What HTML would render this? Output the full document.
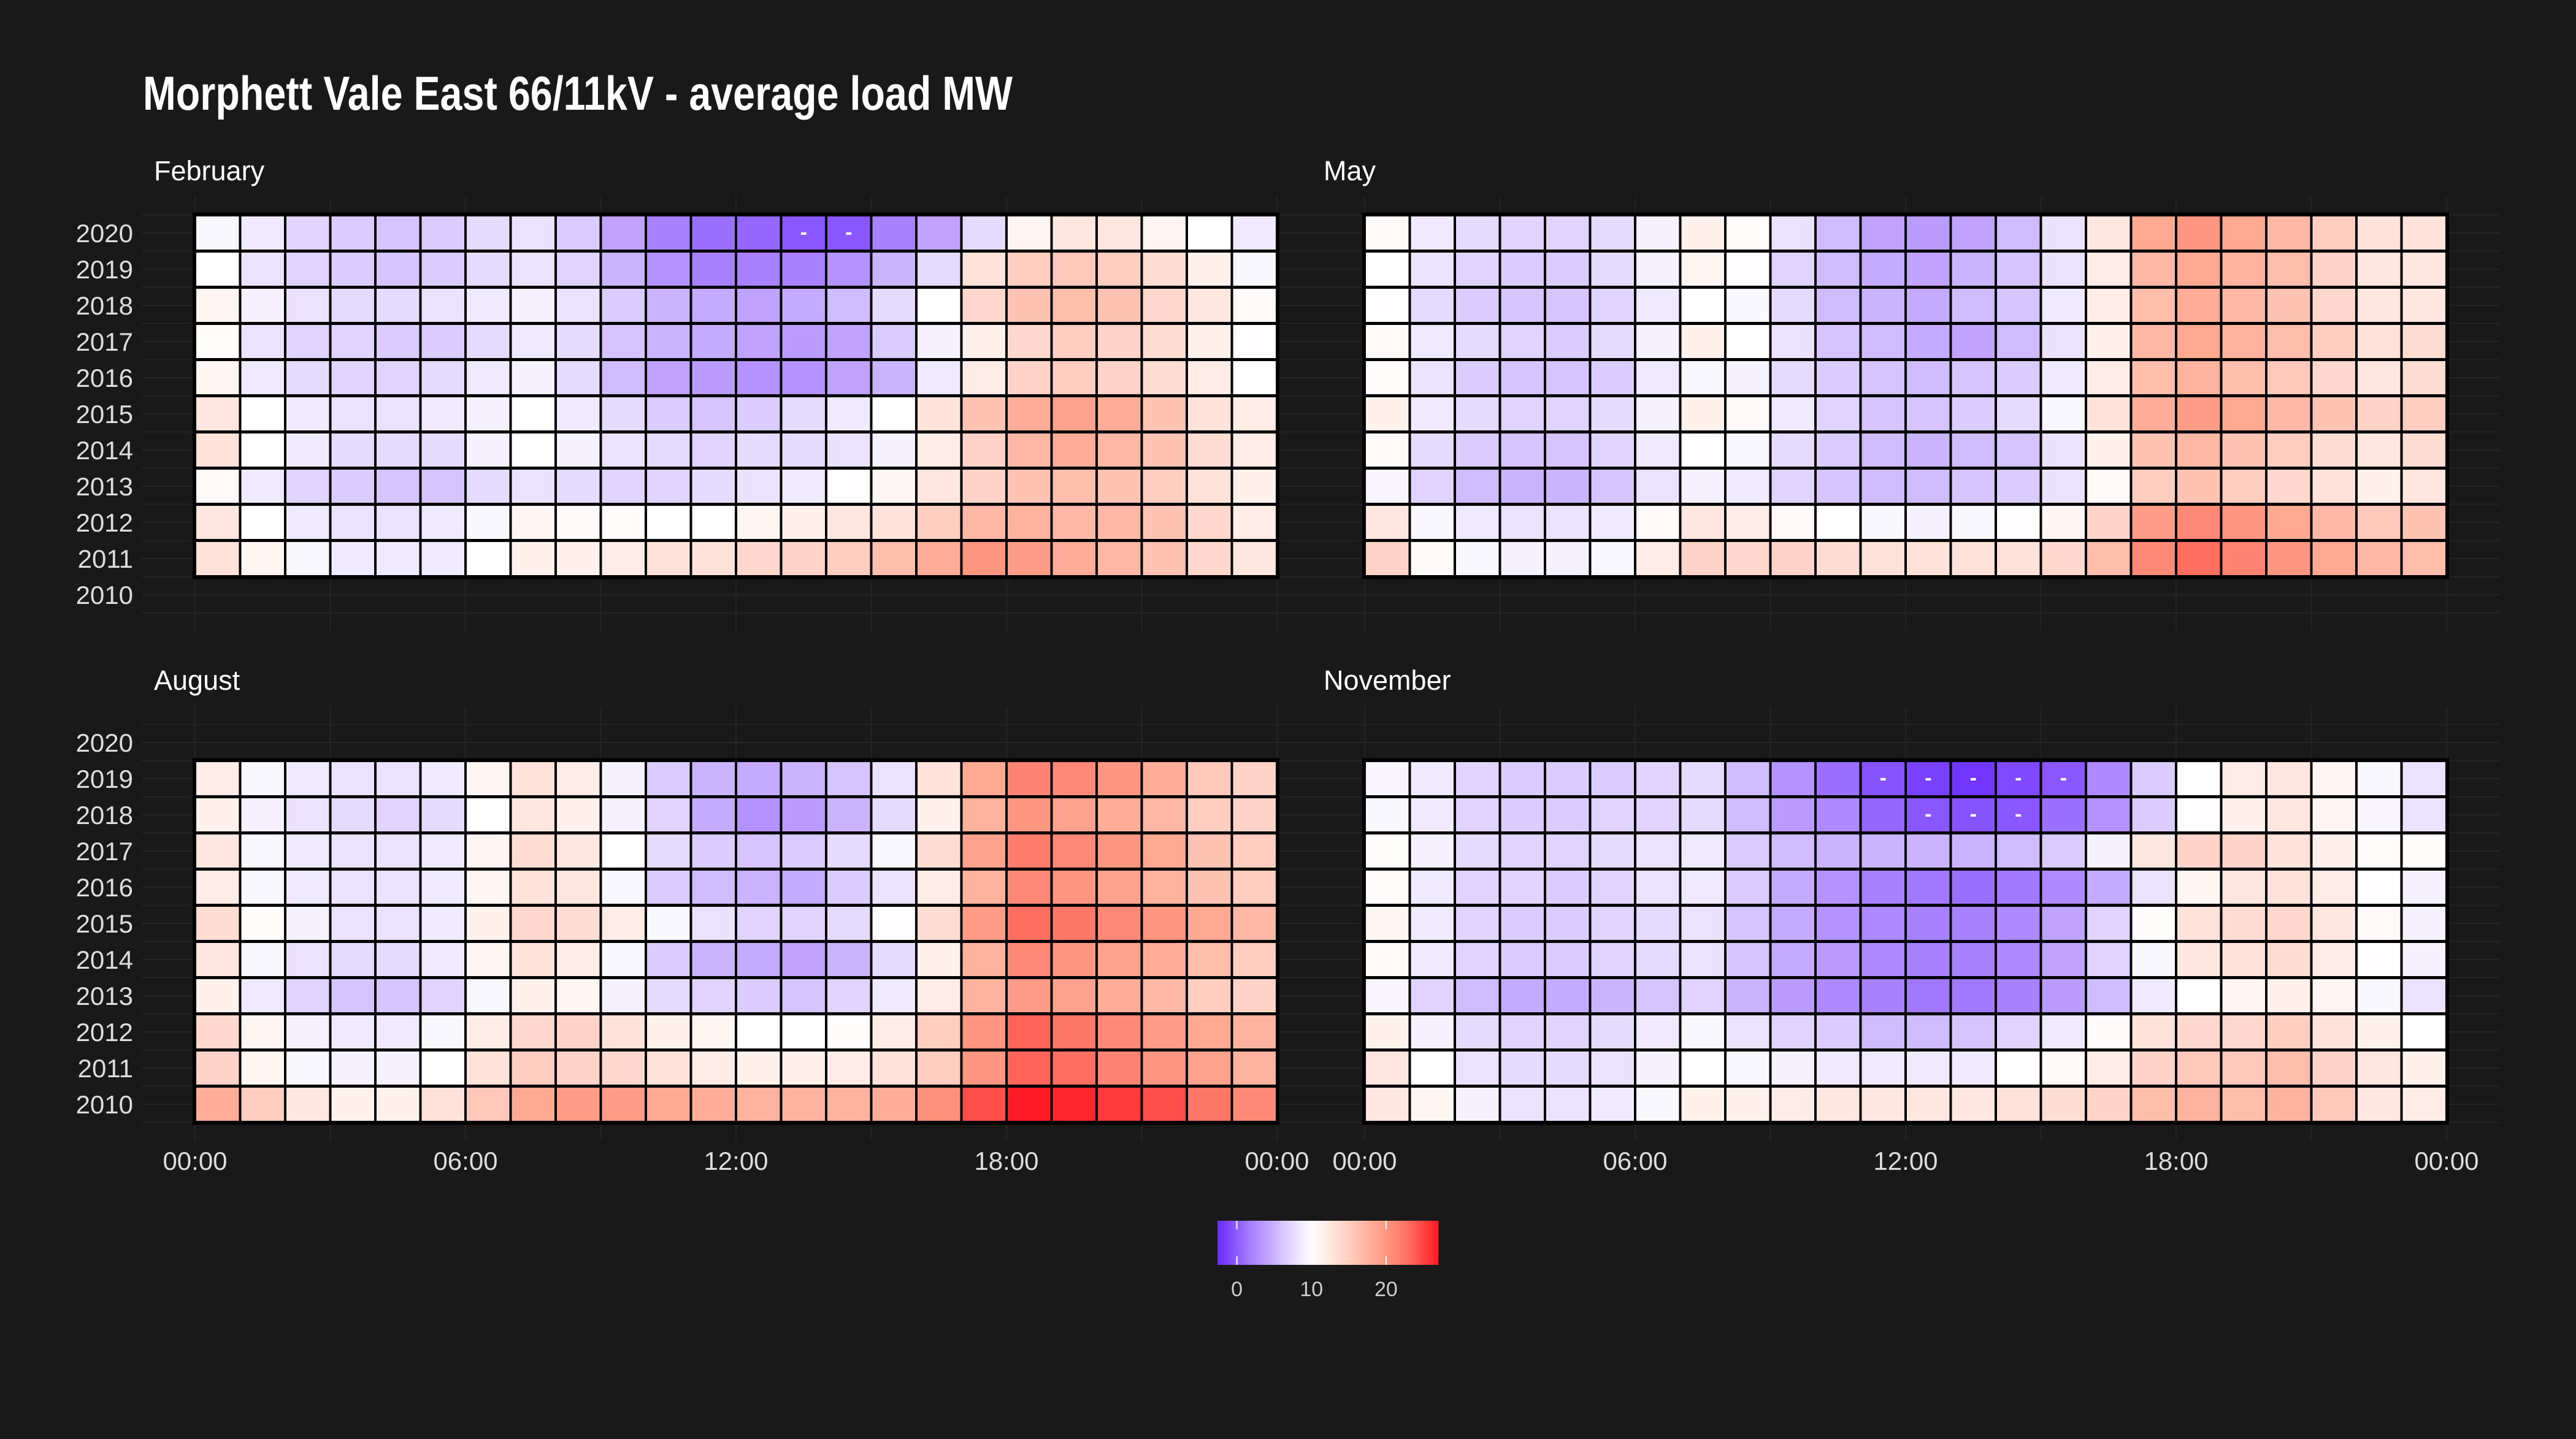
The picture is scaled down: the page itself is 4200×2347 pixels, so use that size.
<!DOCTYPE html>
<html><head><meta charset="utf-8"><style>
html,body{margin:0;padding:0;background:#191919;}
svg{display:block;}
text{font-family:"Liberation Sans Narrow","Liberation Sans",sans-serif;}
</style></head><body>
<svg id="chart" width="4200" height="2347" viewBox="0 0 4200 2347" xmlns="http://www.w3.org/2000/svg">
<rect x="0" y="0" width="4200" height="2347" fill="#191919"/>
<text x="233" y="179" fill="#ffffff" font-size="78" font-weight="bold" textLength="1418" lengthAdjust="spacingAndGlyphs">Morphett Vale East 66/11kV - average load MW</text>
<defs><linearGradient id="lg" x1="0" x2="1" y1="0" y2="0"></linearGradient></defs>
</svg>
<script>
const hours = [0,1,2,3,4,5,6,7,8,9,10,11,12,13,14,15,16,17,18,19,20,21,22,23];
const xTickLabels = ["00:00","06:00","12:00","18:00","00:00"];
const xTickHours = [0,6,12,18,24];
const legendTicks = [0,10,20];
const yearTicks = [2010,2011,2012,2013,2014,2015,2016,2017,2018,2019,2020];
const febYears = [2020,2019,2018,2017,2016,2015,2014,2013,2012,2011];
const febValues = [
[9.5,8.5,7,6.5,6,6.5,7.5,8,6.5,4,2,1,0.5,-0.3,-0.3,2,4,7.5,11,12.5,12.5,11,10,8.5],
[10,8,7,6.5,6,6.5,7.5,8,7,5,3,2,2,2,3,5,7.5,13,15,15.5,15,13.5,11.5,9.5],
[11,9,8,7.5,7.5,8,8.5,9,8,6.5,5,4.5,4,4.5,5.5,7.5,10,14,16,16.5,16,14,12.5,10.5],
[10.3,8,7,7,6.5,6.5,7.5,8.5,7.5,6,5,4.5,4,3.5,4,6.5,9,11.5,14,15,14.5,13.5,11.5,9.8],
[11,8.5,7.5,7,7,7.5,8.5,9,7.5,5.5,4,3.5,3,3,4,5,8.5,12,14.5,15,14.5,13.5,12,10],
[12.5,10,8.5,8,8,8.5,9,10,8.5,7.5,6.5,6,6.5,7.5,8.5,10,13,16,18,19,18,16,13,12],
[13,10,8.5,7.5,7.5,7.5,9,10,9,8,7.5,7,7.5,7.5,8,9,12,14.5,17,18,17,16,13.5,12],
[10.5,8.5,7,6.5,6,6,7.5,8,7.5,7,7,7.5,8,8.5,9.8,10.8,12.5,14.5,16,16.5,16,15,13,11.5],
[12.5,10,8.5,8,8,8.5,9.5,11,10.5,10.3,10,10,11,11.5,12.5,13,15,17,17.5,17,17,16,14,12],
[13,11,9.5,8.5,8.5,8.5,10,11.5,11.5,12,13,13,14,14.5,15,16.5,18,20,19.5,18,17,16,14,12.5]];
const mayYears = [2020,2019,2018,2017,2016,2015,2014,2013,2012,2011];
const mayValues = [
[10.5,8.5,7.5,7,7,7.5,9,11.5,10.3,8,5.5,4,3.5,4,5.5,8,12.5,18.5,20,18.5,17,15,13,13],
[10,8,7,6.5,6.5,7.5,9,11,9.8,7,5.5,4.5,4,5,6,8,12,17,18.5,17.5,16.5,14.5,12.5,12.5],
[10.2,7.5,6.5,6,6,7,8.5,10,9.5,7.5,5.5,5,4.5,5.5,6,8.5,12,16.5,18,17,16,14,12.5,12.5],
[10.5,8.5,7.5,7,6.5,7.5,9,11.5,10,8,6,5.5,4.5,4,5.5,8,11.5,17,18.5,17.5,16.5,15,13,13.5],
[10.3,8,6.5,6,6,6.5,8.5,9.5,9,7.5,6.5,6,5.5,6,6.5,8.5,12,16.5,17.5,16.5,15.5,14,12.5,13.5],
[11.5,8.5,7.5,7,7,7.5,9,11.5,10.5,8.5,7,6,6,6.5,7.5,9.5,13,18,19.5,18.5,17,16,14.5,15],
[10.5,7.5,6.5,6,6,7,8.5,10.2,9.5,7.5,6.5,5.5,5,5.5,6,8,11.5,16,17,16,15,13.5,12.5,13.5],
[9.3,7,5.5,5,5,6,8,9,8.5,7,6,5.5,5.5,6,6.5,8,10.5,15,16,15,14,13,11.5,12.5],
[12.5,9.5,8.5,8,8,8.5,10.5,12.5,12,10.5,10,9.5,9,9.5,10.2,11,14.5,19.5,21,20,18.5,17,15.5,16],
[14.5,10.5,9.5,9,9,9.5,12,14.5,14,14.5,13.5,13,13,13,13,14,16.5,21,23,21.5,20,18.5,17,16.5]];
const augYears = [2019,2018,2017,2016,2015,2014,2013,2012,2011,2010];
const augValues = [
[12,9.5,8.5,8,8,8.5,11,13,12,9,6.5,5,4.5,5,6,8,13,18.5,21.5,21,20,18,15.5,14.5],
[11.5,9,8,7.5,7,7.5,10,12.5,11.5,9,7,4.5,3,3.5,5,7.5,11.5,17.5,20,19,18,17,15,14.5],
[12.5,9.5,8.5,8,8,8.5,11,13.5,12.5,10,7.5,6.5,6,6.5,7.5,9.5,13.5,19,22,21,20,18.5,16,15],
[12,9.5,8.5,8,8,8.5,11,13,12.5,9.5,6.5,5.5,5,4.5,6.5,8,12,17.5,21,20,19,17.5,16,15],
[13.5,10.3,9,8,8,8.5,11.5,14,13.5,12,9.5,8,7,7,7.5,9.8,13.5,19.5,23,22.5,21,20,18.5,17],
[12.5,9.5,8,7.5,7.5,8.5,11,13,12,9.5,6.5,5,4.5,4,5,7.5,11.5,17.5,21,20,19,18,16.5,15],
[11.5,8.5,7,6,6,7,9.5,11.5,11,9,7.5,7,6.5,6,7,8.5,12,17.5,19.5,19,18,17,15,14.5],
[14,11,9,8.5,8.5,9.5,12,14,14.5,13,11.5,11,10,10,10.3,12,15,20,23.5,22.5,21,19.5,18.5,17.5],
[14.5,11,9.5,9,9,10,13,15,14.5,14,13,12,11.5,11.5,12,13,15,20,23.5,23,21.5,20,19,17.5],
[18,15,12.5,11.5,11.5,13,15.5,18.5,19.5,19.5,18.5,18,17.5,17.5,17.5,18,20.5,24.5,27,26.5,25.5,24.5,22.5,21]];
const novYears = [2019,2018,2017,2016,2015,2014,2013,2012,2011,2010];
const novValues = [
[9.3,8.5,7,6.5,6.5,6.5,7,7.5,5.5,3,1,-0.5,-1.5,-2,-1,-0.3,2.5,6.5,10,12,12.5,11,9.5,8],
[9.5,8.5,7,6.5,6.5,7,7,7.5,5.5,3.5,2.5,0.5,-0.3,-0.5,-0.3,1,3,6.5,10.2,11.5,12.5,11,9.3,8],
[10.3,9,7.5,7,7,7.5,8,8.5,6.5,5.5,5,5,5,5,5.5,6.5,9,12.5,14.5,14.5,13,11.5,10.3,10.3],
[10.3,8.5,7,7,6.5,7,8,8.5,6.5,4.5,3,2,1.5,1,1.5,2.5,4.5,8,11,12.5,13,12,10.2,9],
[11,8.5,7,6.5,6.5,7,7.5,8,6,4.5,3,2.5,2,2,2.5,4,7,10.3,13,13.5,14,12.5,10.5,9],
[10.5,8.5,7,6.5,6.5,7,7.5,8,6,4.5,3.5,2.5,2,2,2.5,4,7,9.5,12.5,13,13.5,12,10.2,9],
[9.3,7,5.5,4.5,4.5,5,6,7,5,3.5,2.5,2,1.5,1.5,2,3.5,5.5,8.5,10,11,11.5,11,9.5,8],
[11.5,9,7.5,7,7,7.5,8.5,9.5,8,7,6.5,5.5,5.5,6,7,8.5,10.5,13,14,14,15,13,11.5,10],
[12.5,10,8,7.5,7.5,8,9,10,9.5,9,8.5,8.5,8.5,8.5,10,10.5,12,14.5,15.5,15.5,16.5,14.5,12.5,11.5],
[12.5,11,9,8,8,8.5,9.5,11.5,11.5,12,12.5,12.5,12.5,12.5,13,13.5,14.5,16.5,17.5,16.5,17.5,15.5,12.5,12]];

const NS = "http://www.w3.org/2000/svg";
const svg = document.getElementById('chart');
const VMIN = -2.6, VMID = 10, VMAX = 27;
const LOWSTOPS = [[255,255,255],[222,210,255],[188,158,255],[150,104,255],[106,42,255]];
const HIGHSTOPS = [[255,255,255],[255,214,202],[255,168,146],[255,116,100],[255,26,37]];
function ramp(stops, t){
  t = Math.max(0, Math.min(1, t));
  const n = stops.length - 1, f = t*n, i = Math.min(n-1, Math.floor(f)), u = f - i;
  const a = stops[i], b = stops[i+1];
  return `rgb(${Math.round(a[0]+(b[0]-a[0])*u)},${Math.round(a[1]+(b[1]-a[1])*u)},${Math.round(a[2]+(b[2]-a[2])*u)})`;
}
function color(v){
  if (v < VMID) return ramp(LOWSTOPS, (VMID-v)/(VMID-VMIN));
  return ramp(HIGHSTOPS, (v-VMID)/(VMAX-VMID));
}
function mk(tag, attrs, parent){
  const e = document.createElementNS(NS, tag);
  for (const k in attrs) e.setAttribute(k, attrs[k]);
  (parent || svg).appendChild(e);
  return e;
}
const HW = 73.5, YH = 59;
const panels = [
 {name:'february', label:'February', years:febYears, values:febValues, x0:318, y2020:380, top:321, showY:true, showX:false},
 {name:'may', label:'May', years:mayYears, values:mayValues, x0:2225, y2020:380, top:321, showY:false, showX:false},
 {name:'august', label:'August', years:augYears, values:augValues, x0:318, y2020:1211, top:1152, showY:true, showX:true},
 {name:'november', label:'November', years:novYears, values:novValues, x0:2225, y2020:1211, top:1152, showY:false, showX:true}
];
panels.forEach(p => {
  const xS = h => p.x0 + h*HW;
  const yS = yr => p.y2020 + (2020-yr)*YH;
  const g = mk('g', {});
  
  
  const left = xS(0) - 87, right = xS(24) + 87, top = p.top, bottom = yS(2009);
  for (let h = 0; h <= 24; h += 3){
    const l = mk('line', {x1:xS(h), x2:xS(h), y1:top, y2:bottom, stroke:'#242424', 'stroke-width':2}, g);
    
    
  }
  for (let yv = 2009.5; yv <= 2020.5; yv += 0.5){
    const l = mk('line', {x1:left, x2:right, y1:yS(yv), y2:yS(yv), stroke:'#242424', 'stroke-width':2}, g);
    
    
  }
  const st = mk('text', {x:left+20, y:top-27, fill:'#ffffff', 'font-size':45}, g);
  st.textContent = p.label;
  
  
  const yTop = yS(p.years[0]) - YH/2, yBot = yS(p.years[p.years.length-1]) + YH/2;
  mk('rect', {x:xS(0), y:yTop, width:HW*24, height:yBot-yTop, fill:'#000', stroke:'#000', 'stroke-width':8}, g);
  p.years.forEach((yr, ri) => {
    hours.forEach((h, ci) => {
      const v = p.values[ri][ci];
      const r = mk('rect', {x:xS(h)+2, y:yS(yr)-YH/2+2.5, width:HW-4, height:YH-5, fill:color(v)}, g);
      
      
      if (v < 0){
        const t = mk('text', {x:xS(h)+HW/2, y:yS(yr)+10, fill:'#ffffff', 'font-size':34, 'text-anchor':'middle', 'font-weight':'bold'}, g);
        t.textContent = '-';
        
        
      }
    });
  });
  if (p.showY){
    yearTicks.forEach(yr => {
      const t = mk('text', {x:217, y:yS(yr)+15, fill:'#dddddd', 'font-size':42, 'text-anchor':'end'}, g);
      t.textContent = yr;
      
      
    });
  }
  if (p.showX){
    xTickHours.forEach((h, i) => {
      const t = mk('text', {x:xS(h), y:1908, fill:'#dddddd', 'font-size':42, 'text-anchor':'middle'}, g);
      t.textContent = xTickLabels[i];
      
      
    });
  }
});
const lg = document.getElementById('lg');
for (let i = 0; i <= 30; i++){
  const v = VMIN + (VMAX-VMIN)*i/30;
  mk('stop', {offset:(i/30), 'stop-color':color(v)}, lg);
}
const LX0 = 1985, LX1 = 2345, LY0 = 1991, LY1 = 2063;
const lx = v => LX0 + (v-VMIN)/(VMAX-VMIN)*(LX1-LX0);
const leg = mk('g', {});


const bar = mk('rect', {x:LX0, y:LY0, width:LX1-LX0, height:LY1-LY0, fill:'url(#lg)'}, leg);


legendTicks.forEach(v => {
  mk('line', {x1:lx(v), x2:lx(v), y1:LY0, y2:LY0+14, stroke:'#ffffff', 'stroke-width':2}, leg);
  mk('line', {x1:lx(v), x2:lx(v), y1:LY1-14, y2:LY1, stroke:'#ffffff', 'stroke-width':2}, leg);
  const t = mk('text', {x:lx(v), y:2114, fill:'#cccccc', 'font-size':34, 'text-anchor':'middle'}, leg);
  t.textContent = v;
  
  
});
</script>
</body></html>
